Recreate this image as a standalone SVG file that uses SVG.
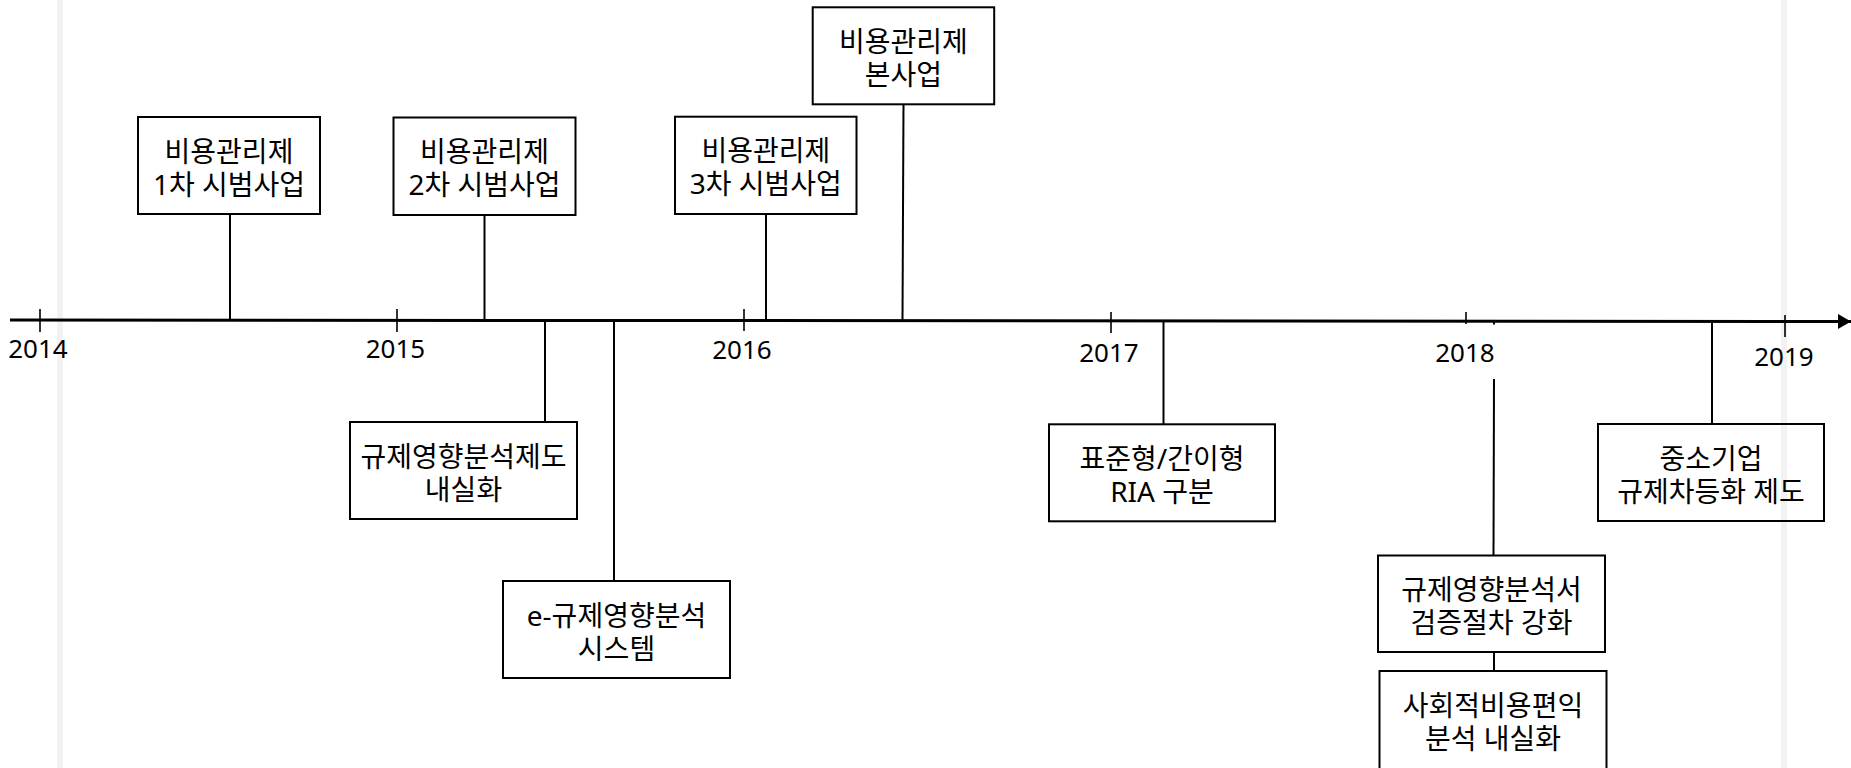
<svg xmlns="http://www.w3.org/2000/svg" width="1851" height="768" viewBox="0 0 1851 768">
<style>
.box{fill:#fff;stroke:#000;stroke-width:2}
.t{font-family:"Noto Sans","Noto Sans CJK KR",sans-serif;font-size:28px;fill:#000;text-anchor:middle}
.y{font-family:"Noto Sans","Noto Sans CJK KR",sans-serif;font-size:26px;fill:#000;text-anchor:middle}
.c{stroke:#000;stroke-width:2;fill:none}
.tick{stroke:#000;stroke-width:1.6}
.axis{stroke:#000;stroke-width:3}
.edge{fill:#000;opacity:0.05}
</style>
<defs>
<marker id="arr" markerWidth="13" markerHeight="15" refX="13" refY="7.5" orient="auto" markerUnits="userSpaceOnUse">
<path d="M0,0 L13,7.5 L0,15 Z" fill="#000"/>
</marker>
</defs>
<rect width="1851" height="768" fill="#fff"/>
<g id="timeline">
<line class="axis" x1="10" y1="320" x2="1851" y2="321.5" marker-end="url(#arr)"/>
<line class="tick" x1="40" y1="309" x2="40" y2="332"/>
<line class="tick" x1="397" y1="309" x2="397" y2="332"/>
<line class="tick" x1="744" y1="309" x2="744" y2="331"/>
<line class="tick" x1="1111" y1="312" x2="1111" y2="333"/>
<line class="tick" x1="1466" y1="312" x2="1466" y2="324"/>
<line class="tick" x1="1785" y1="315" x2="1785" y2="337"/>
<text class="y" x="38" y="358">2014</text>
<text class="y" x="395.5" y="358">2015</text>
<text class="y" x="742" y="359">2016</text>
<text class="y" x="1109" y="362">2017</text>
<text class="y" x="1465" y="362">2018</text>
<text class="y" x="1784" y="366">2019</text>
</g>
<g id="connectors">
<line class="c" x1="230" y1="214" x2="230" y2="320"/>
<line class="c" x1="484.5" y1="215" x2="484.5" y2="320"/>
<line class="c" x1="766" y1="214" x2="766" y2="320"/>
<line class="c" x1="903.5" y1="104" x2="902.5" y2="320"/>
<line class="c" x1="545" y1="320" x2="545" y2="422"/>
<line class="c" x1="614" y1="320" x2="614" y2="581"/>
<line class="c" x1="1163.5" y1="320" x2="1163.5" y2="424"/>
<line class="c" x1="1712" y1="321" x2="1712" y2="424"/>
<line class="c" x1="1494" y1="321" x2="1494" y2="324.5"/>
<line class="c" x1="1494" y1="379" x2="1493.5" y2="555.5"/>
<line class="c" x1="1494" y1="652" x2="1494" y2="671"/>
</g>
<g id="n1"><rect class="box" x="138" y="117" width="182" height="97"/><text class="t"><tspan x="229" y="161.5">비용관리제</tspan><tspan x="229" y="194.5">1차 시범사업</tspan></text></g>
<g id="n2"><rect class="box" x="393.5" y="117.5" width="182" height="97.5"/><text class="t"><tspan x="484.5" y="162">비용관리제</tspan><tspan x="484.5" y="195">2차 시범사업</tspan></text></g>
<g id="n3"><rect class="box" x="675" y="116.7" width="181.5" height="97.3"/><text class="t"><tspan x="765.8" y="161">비용관리제</tspan><tspan x="765.8" y="194">3차 시범사업</tspan></text></g>
<g id="n4"><rect class="box" x="812.7" y="7.3" width="181.5" height="97"/><text class="t"><tspan x="903.4" y="51.8">비용관리제</tspan><tspan x="903.4" y="84.8">본사업</tspan></text></g>
<g id="n5"><rect class="box" x="350" y="422" width="227" height="97"/><text class="t"><tspan x="463.5" y="466.5">규제영향분석제도</tspan><tspan x="463.5" y="499.5">내실화</tspan></text></g>
<g id="n6"><rect class="box" x="503" y="581" width="227" height="97"/><text class="t"><tspan x="616.5" y="625.5">e-규제영향분석</tspan><tspan x="616.5" y="658.5">시스템</tspan></text></g>
<g id="n7"><rect class="box" x="1049" y="424.3" width="226" height="97"/><text class="t"><tspan x="1162" y="468.5">표준형/간이형</tspan><tspan x="1162" y="501.5">RIA 구분</tspan></text></g>
<g id="n8"><rect class="box" x="1598" y="424" width="226" height="97"/><text class="t"><tspan x="1711" y="468.5">중소기업</tspan><tspan x="1711" y="501.5">규제차등화 제도</tspan></text></g>
<g id="n9"><rect class="box" x="1378" y="555.5" width="227" height="96.5"/><text class="t"><tspan x="1491.5" y="599.5">규제영향분석서</tspan><tspan x="1491.5" y="632.5">검증절차 강화</tspan></text></g>
<g id="n10"><rect class="box" x="1379.5" y="671" width="227" height="98"/><text class="t"><tspan x="1493" y="715.5">사회적비용편익</tspan><tspan x="1493" y="748.5">분석 내실화</tspan></text></g>
<rect class="edge" x="57" y="0" width="6" height="768"/>
<rect class="edge" x="1781" y="0" width="6" height="768"/>
</svg>
